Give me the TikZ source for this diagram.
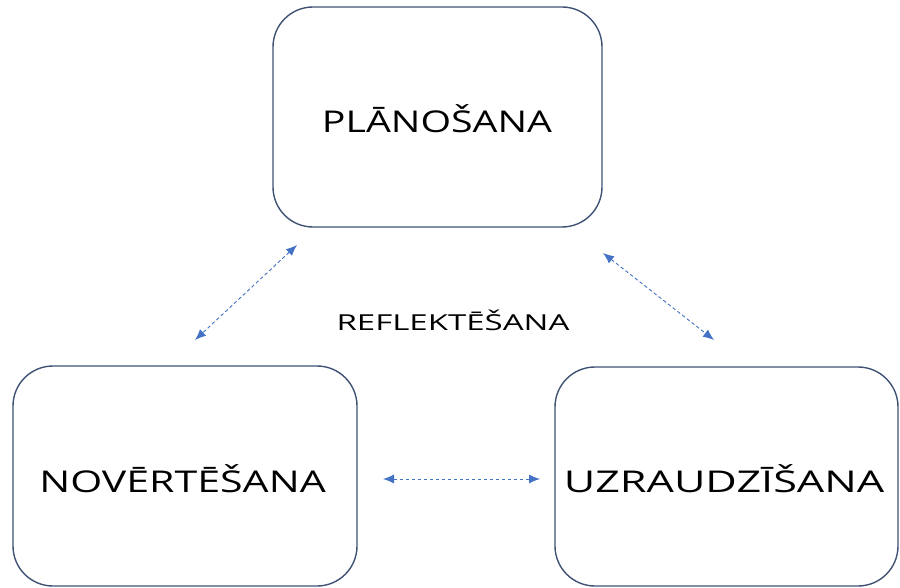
\documentclass[tikz,border=0pt]{standalone}
\usepackage{fontspec}
\usepackage{graphicx}
\setmainfont{Open Sans}
\usetikzlibrary{arrows.meta}
\definecolor{boxline}{HTML}{3F5273}
\definecolor{arrowblue}{HTML}{4472C4}
\newcommand{\widetext}[2]{\scalebox{#1}[1]{#2}}
\begin{document}
\begin{tikzpicture}[x=1pt,y=-1pt,
  phase/.style={draw=boxline, line width=1.4pt, rounded corners=40pt},
  bigtext/.style={font=\fontsize{30}{34}\selectfont},
  link/.style={arrowblue, line width=0.9pt, dash pattern=on 3.5pt off 2.5pt,
    {Latex[length=11pt,width=9pt]}-{Latex[length=11pt,width=9pt]}}]
\useasboundingbox (0,0) rectangle (900,588);
% the three phases
\draw[phase] (273,7) rectangle (602,227);
\draw[phase] (13,366) rectangle (357,586);
\draw[phase] (555,367) rectangle (898,586);
\node[bigtext] (plan) at (437,119) {\widetext{1.31}{PLĀNOŠANA}};
\node[bigtext] (eval) at (182.5,479) {\widetext{1.37}{NOVĒRTĒŠANA}};
\node[bigtext] (watch) at (724,479) {\widetext{1.44}{UZRAUDZĪŠANA}};
\node[font=\fontsize{22}{26}\selectfont] (refl) at (453,320) {\widetext{1.5}{REFLEKTĒŠANA}};
% arrow ends
\coordinate (p1) at (297,245);
\coordinate (e1) at (195,340);
\coordinate (p2) at (603,253);
\coordinate (w1) at (714,340);
\coordinate (e2) at (383,479);
\coordinate (w2) at (540,479);
\draw[link] (p1) -- (e1);
\draw[link] (p2) -- (w1);
\draw[link] (e2) -- (w2);
\end{tikzpicture}
\end{document}
